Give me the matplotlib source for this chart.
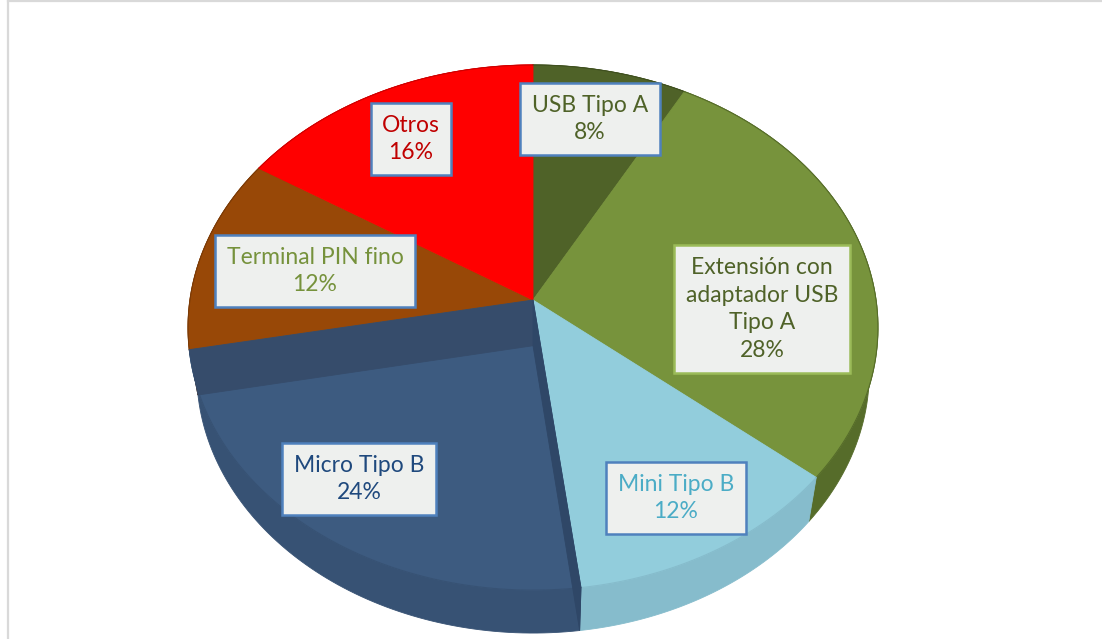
import numpy as np
import matplotlib.pyplot as plt
from matplotlib.patches import Polygon

plt.rcParams['font.family'] = ['Lato', 'DejaVu Sans']

categorias = ["USB Tipo A", "Extensión con\nadaptador USB\nTipo A", "Mini Tipo B",
              "Micro Tipo B", "Terminal PIN fino", "Otros"]
porcentajes = [8, 28, 12, 24, 12, 16]

color_sup = ["#4f6228", "#77933c", "#92cddc", "#3d5b80", "#984807", "#ff0000"]
color_lado = ["#3f4f1f", "#566c2a", "#86bccc", "#375274", "#7a3a06", "#cc0000"]
color_texto = ["#4f6228", "#4f6228", "#4bacc6", "#1f497d", "#76923c", "#c00000"]
borde_caja = ["#4f81bd", "#9bbb59", "#4f81bd", "#4f81bd", "#4f81bd", "#4f81bd"]
pos_etiqueta = [(590, 119), (762, 309), (676, 498), (359, 479), (315, 271), (411, 139)]

# perspective camera for the tilted disc (pixel space)
cx, cy = 533, 300
f = 2136.0
R = 0.1606
phi = np.radians(49.2)
alto = 0.0336


def proyectar(theta, r, prof):
    w = 1 + r * np.cos(theta) * np.cos(phi) + prof * np.sin(phi)
    x = cx + f * r * np.sin(theta) / w
    y = cy - f * (r * np.cos(theta) * np.sin(phi) - prof * np.cos(phi)) / w
    return np.column_stack([x, y])


fig = plt.figure(figsize=(11.02, 6.39), dpi=100)
ax = fig.add_axes([0, 0, 1, 1])
ax.set_xlim(0, 1102)
ax.set_ylim(639, 0)
ax.axis("off")

# chart area frame
ax.plot([8, 8], [639, 1], color="#d9d9d9", lw=1.6)
ax.plot([8, 1102], [1, 1], color="#d9d9d9", lw=1.6)

bordes = np.concatenate([[0], np.cumsum(porcentajes)]) / 100 * 2 * np.pi
cero = np.zeros(1)

# outer walls first, top faces cover the hidden ones
for i in range(len(porcentajes)):
    t = np.linspace(bordes[i], bordes[i + 1], 80)
    arriba = proyectar(t, R, 0)
    abajo = proyectar(t[::-1], R, alto)
    ax.add_patch(Polygon(np.vstack([arriba, abajo]), closed=True,
                         fc=color_lado[i], ec=color_lado[i], lw=0.6, zorder=1))

for i in range(len(porcentajes)):
    t = np.linspace(bordes[i], bordes[i + 1], 80)
    borde = proyectar(t, R, 0)
    centro = proyectar(cero, 0, 0)
    ax.add_patch(Polygon(np.vstack([centro, borde]), closed=True,
                         fc=color_sup[i], ec=color_sup[i], lw=0.6, zorder=2))
    # rim line between top and wall
    ax.plot(borde[:, 0], borde[:, 1], color=color_lado[i], lw=0.8, zorder=2.5)

# cut faces of the Micro slice
i = 3
for ang, col in [(bordes[i + 1], "#364c6b"), (bordes[i], "#2f4767")]:
    t = np.array([ang])
    cara = np.vstack([proyectar(t, 0, 0), proyectar(t, R, 0),
                      proyectar(t, R, alto), proyectar(t, 0, alto)])
    ax.add_patch(Polygon(cara, closed=True, fc=col, ec=col, lw=0.6, zorder=3))

for i, (cat, p) in enumerate(zip(categorias, porcentajes)):
    x, y = pos_etiqueta[i]
    ax.text(x, y, f"{cat}\n{p}%", ha="center", va="center", fontsize=16.5,
            color=color_texto[i], linespacing=1.4, zorder=5,
            bbox=dict(boxstyle="square,pad=0.5", fc="#eef0ee",
                      ec=borde_caja[i], lw=1.8))

fig.savefig("out.png", dpi=100)
